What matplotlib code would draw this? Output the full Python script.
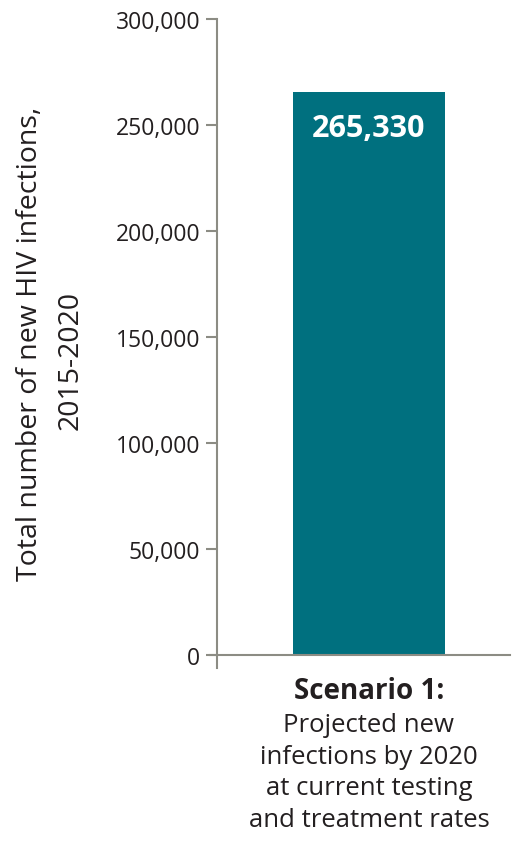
import matplotlib.pyplot as plt
from matplotlib.ticker import FuncFormatter

categories = ['Scenario 1']
values = [265330]
yticks = [0, 50000, 100000, 150000, 200000, 250000, 300000]
bar_label = '265,330'
ylabel_lines = ['Total number of new HIV infections,', '2015-2020']
xlabel_bold = 'Scenario 1:'
xlabel_rest = 'Projected new\ninfections by 2020\nat current testing\nand treatment rates'

plt.rcParams['font.family'] = ['Open Sans', 'DejaVu Sans']
teal = '#00707f'
gray = '#8c8c84'
ink = '#231f20'

fig = plt.figure(figsize=(5.3, 8.53), dpi=100)
ax = fig.add_axes([0.396, 0.2156, 0.566, 0.761])

bw = 0.519
ax.bar(range(len(categories)), values, width=bw, color=teal)
ax.set_xlim(-0.543, 0.481)
ax.set_ylim(-6200, 300000)
ax.set_yticks(yticks)
ax.yaxis.set_major_formatter(FuncFormatter(lambda v, p: f'{int(v):,}'))
ax.set_xticks([])

for s in ['top', 'right']:
    ax.spines[s].set_visible(False)
ax.spines['bottom'].set_position(('data', 0))
ax.spines['left'].set_position(('data', -0.519))
for s in ['left', 'bottom']:
    ax.spines[s].set_color(gray)
    ax.spines[s].set_linewidth(1.5)
ax.tick_params(axis='y', direction='out', length=8, width=1.5, color=gray,
               labelsize=16.5, labelcolor=ink, pad=4)

ax.text(0, values[0] - 17000, bar_label, ha='center', va='center',
        color='white', fontsize=22, fontweight='bold')

# y label, two lines placed separately
fig.text(0.057, 1 - 344 / 853, ylabel_lines[0], rotation=90, ha='center',
         va='center', fontsize=20.5, color=ink)
fig.text(0.134, 1 - 360 / 853, ylabel_lines[1], rotation=90, ha='center',
         va='center', fontsize=20.5, color=ink)

fig.text(0.696, 1 - 692 / 853, xlabel_bold, ha='center', va='center',
         fontsize=20, fontweight='bold', color=ink)
fig.text(0.696, 1 - 773 / 853, xlabel_rest, ha='center', va='center',
         fontsize=18.5, color=ink, linespacing=1.34)

fig.savefig('out.png', dpi=100)
